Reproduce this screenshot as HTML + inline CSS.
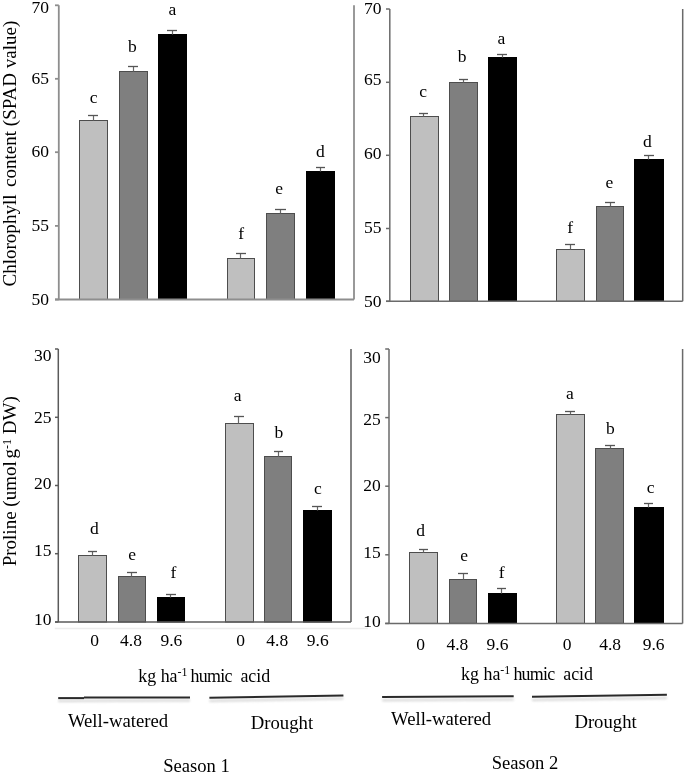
<!DOCTYPE html>
<html><head><meta charset="utf-8"><style>
html,body{margin:0;padding:0;background:#fff;width:685px;height:773px;overflow:hidden}
svg{display:block;will-change:transform}
text{font-family:"Liberation Serif", serif;fill:#000}
</style></head><body>
<svg width="685" height="773" viewBox="0 0 685 773">
<defs><filter id="sh" x="-5%" y="-200%" width="110%" height="500%"><feGaussianBlur stdDeviation="1"/></filter></defs>
<rect width="685" height="773" fill="#fff"/>
<g>
<rect x="79.5" y="120.5" width="28.0" height="179.0" fill="#bfbfbf" stroke="#4d4d4d" stroke-width="1"/>
<line x1="93.5" y1="115.5" x2="93.5" y2="120.5" stroke="#666" stroke-width="1.2"/>
<line x1="88" y1="115.5" x2="98" y2="115.5" stroke="#555" stroke-width="1.3"/>
<rect x="119.5" y="71.5" width="28.0" height="228.0" fill="#7f7f7f" stroke="#4d4d4d" stroke-width="1"/>
<line x1="133.5" y1="66.5" x2="133.5" y2="71.5" stroke="#666" stroke-width="1.2"/>
<line x1="128" y1="66.5" x2="138" y2="66.5" stroke="#555" stroke-width="1.3"/>
<rect x="158.5" y="34.5" width="28.0" height="265.0" fill="#000000" stroke="#000" stroke-width="1"/>
<line x1="172.5" y1="30.5" x2="172.5" y2="34.5" stroke="#666" stroke-width="1.2"/>
<line x1="167" y1="30.5" x2="177" y2="30.5" stroke="#555" stroke-width="1.3"/>
<rect x="227.5" y="258.5" width="27.0" height="41.0" fill="#bfbfbf" stroke="#4d4d4d" stroke-width="1"/>
<line x1="240.5" y1="253.5" x2="240.5" y2="258.5" stroke="#666" stroke-width="1.2"/>
<line x1="236" y1="253.5" x2="246" y2="253.5" stroke="#555" stroke-width="1.3"/>
<rect x="266.5" y="213.5" width="28.0" height="86.0" fill="#7f7f7f" stroke="#4d4d4d" stroke-width="1"/>
<line x1="280.5" y1="209.5" x2="280.5" y2="213.5" stroke="#666" stroke-width="1.2"/>
<line x1="275" y1="209.5" x2="286" y2="209.5" stroke="#555" stroke-width="1.3"/>
<rect x="306.5" y="171.5" width="28.0" height="128.0" fill="#000000" stroke="#000" stroke-width="1"/>
<line x1="320.5" y1="167.5" x2="320.5" y2="171.5" stroke="#666" stroke-width="1.2"/>
<line x1="316" y1="167.5" x2="325" y2="167.5" stroke="#555" stroke-width="1.3"/>
<line x1="58.8" y1="5.3" x2="58.8" y2="299.5" stroke="#8e8e8e" stroke-width="1.8"/>
<line x1="55" y1="299.5" x2="354" y2="299.5" stroke="#8e8e8e" stroke-width="1.8"/>
<line x1="354" y1="5.3" x2="354" y2="299.5" stroke="#8e8e8e" stroke-width="1.8"/>
<line x1="55" y1="5.3" x2="58.8" y2="5.3" stroke="#8e8e8e" stroke-width="1.8"/>
<line x1="55" y1="78.8" x2="58.8" y2="78.8" stroke="#8e8e8e" stroke-width="1.8"/>
<line x1="55" y1="152.2" x2="58.8" y2="152.2" stroke="#8e8e8e" stroke-width="1.8"/>
<line x1="55" y1="225.9" x2="58.8" y2="225.9" stroke="#8e8e8e" stroke-width="1.8"/>
<line x1="55" y1="299.5" x2="58.8" y2="299.5" stroke="#8e8e8e" stroke-width="1.8"/>
<text x="49" y="12.6" font-size="17.5" text-anchor="end" >70</text>
<text x="49" y="83.6" font-size="17.5" text-anchor="end" >65</text>
<text x="49" y="157.4" font-size="17.5" text-anchor="end" >60</text>
<text x="49" y="231.1" font-size="17.5" text-anchor="end" >55</text>
<text x="49" y="304.9" font-size="17.5" text-anchor="end" >50</text>
<text x="93.7" y="102.9" font-size="17.5" text-anchor="middle" >c</text>
<text x="132.3" y="52.1" font-size="17.5" text-anchor="middle" >b</text>
<text x="172.45" y="14.9" font-size="17.5" text-anchor="middle" >a</text>
<text x="241.2" y="238.5" font-size="17.5" text-anchor="middle" >f</text>
<text x="279.05" y="193.5" font-size="17.5" text-anchor="middle" >e</text>
<text x="320.45" y="156.7" font-size="17.5" text-anchor="middle" >d</text>
<rect x="410.5" y="116.5" width="28.0" height="184.8" fill="#bfbfbf" stroke="#4d4d4d" stroke-width="1"/>
<line x1="423.5" y1="113.5" x2="423.5" y2="116.5" stroke="#666" stroke-width="1.2"/>
<line x1="419" y1="113.5" x2="428" y2="113.5" stroke="#555" stroke-width="1.3"/>
<rect x="449.5" y="82.5" width="28.0" height="218.8" fill="#7f7f7f" stroke="#4d4d4d" stroke-width="1"/>
<line x1="463.5" y1="79.5" x2="463.5" y2="82.5" stroke="#666" stroke-width="1.2"/>
<line x1="459" y1="79.5" x2="468" y2="79.5" stroke="#555" stroke-width="1.3"/>
<rect x="488.5" y="57.5" width="28.0" height="243.8" fill="#000000" stroke="#000" stroke-width="1"/>
<line x1="502.5" y1="54.5" x2="502.5" y2="57.5" stroke="#666" stroke-width="1.2"/>
<line x1="497" y1="54.5" x2="507" y2="54.5" stroke="#555" stroke-width="1.3"/>
<rect x="556.5" y="249.5" width="28.0" height="51.80000000000001" fill="#bfbfbf" stroke="#4d4d4d" stroke-width="1"/>
<line x1="570.5" y1="244.5" x2="570.5" y2="249.5" stroke="#666" stroke-width="1.2"/>
<line x1="565" y1="244.5" x2="575" y2="244.5" stroke="#555" stroke-width="1.3"/>
<rect x="596.5" y="206.5" width="27.0" height="94.80000000000001" fill="#7f7f7f" stroke="#4d4d4d" stroke-width="1"/>
<line x1="610.5" y1="202.5" x2="610.5" y2="206.5" stroke="#666" stroke-width="1.2"/>
<line x1="605" y1="202.5" x2="615" y2="202.5" stroke="#555" stroke-width="1.3"/>
<rect x="634.5" y="159.5" width="29.0" height="141.8" fill="#000000" stroke="#000" stroke-width="1"/>
<line x1="648.5" y1="155.5" x2="648.5" y2="159.5" stroke="#666" stroke-width="1.2"/>
<line x1="644" y1="155.5" x2="654" y2="155.5" stroke="#555" stroke-width="1.3"/>
<line x1="389.8" y1="9.0" x2="389.8" y2="301.3" stroke="#6a6a6a" stroke-width="1.5"/>
<line x1="386" y1="301.3" x2="682.7" y2="301.3" stroke="#6a6a6a" stroke-width="1.5"/>
<line x1="682.7" y1="9.0" x2="682.7" y2="301.3" stroke="#6a6a6a" stroke-width="1.5"/>
<line x1="386" y1="9.0" x2="389.8" y2="9.0" stroke="#6a6a6a" stroke-width="1.5"/>
<line x1="386" y1="82.3" x2="389.8" y2="82.3" stroke="#6a6a6a" stroke-width="1.5"/>
<line x1="386" y1="155.3" x2="389.8" y2="155.3" stroke="#6a6a6a" stroke-width="1.5"/>
<line x1="386" y1="228.5" x2="389.8" y2="228.5" stroke="#6a6a6a" stroke-width="1.5"/>
<line x1="386" y1="301.3" x2="389.8" y2="301.3" stroke="#6a6a6a" stroke-width="1.5"/>
<text x="381.5" y="14.4" font-size="17.5" text-anchor="end" >70</text>
<text x="381.5" y="85.2" font-size="17.5" text-anchor="end" >65</text>
<text x="381.5" y="158.8" font-size="17.5" text-anchor="end" >60</text>
<text x="381.5" y="232.5" font-size="17.5" text-anchor="end" >55</text>
<text x="381.5" y="306.5" font-size="17.5" text-anchor="end" >50</text>
<text x="423.1" y="96.9" font-size="17.5" text-anchor="middle" >c</text>
<text x="462.0" y="62.4" font-size="17.5" text-anchor="middle" >b</text>
<text x="501.4" y="43.5" font-size="17.5" text-anchor="middle" >a</text>
<text x="570.2" y="233.1" font-size="17.5" text-anchor="middle" >f</text>
<text x="609.45" y="188.4" font-size="17.5" text-anchor="middle" >e</text>
<text x="647.4" y="146.7" font-size="17.5" text-anchor="middle" >d</text>
<rect x="78.5" y="555.5" width="28.0" height="66.5" fill="#bfbfbf" stroke="#4d4d4d" stroke-width="1"/>
<line x1="92.5" y1="551.5" x2="92.5" y2="555.5" stroke="#666" stroke-width="1.2"/>
<line x1="88" y1="551.5" x2="97" y2="551.5" stroke="#555" stroke-width="1.3"/>
<rect x="118.5" y="576.5" width="27.0" height="45.5" fill="#7f7f7f" stroke="#4d4d4d" stroke-width="1"/>
<line x1="131.5" y1="572.5" x2="131.5" y2="576.5" stroke="#666" stroke-width="1.2"/>
<line x1="127" y1="572.5" x2="137" y2="572.5" stroke="#555" stroke-width="1.3"/>
<rect x="157.5" y="597.5" width="27.0" height="24.5" fill="#000000" stroke="#000" stroke-width="1"/>
<line x1="170.5" y1="594.5" x2="170.5" y2="597.5" stroke="#666" stroke-width="1.2"/>
<line x1="166" y1="594.5" x2="176" y2="594.5" stroke="#555" stroke-width="1.3"/>
<rect x="225.5" y="423.5" width="28.0" height="198.5" fill="#bfbfbf" stroke="#4d4d4d" stroke-width="1"/>
<line x1="238.5" y1="416.5" x2="238.5" y2="423.5" stroke="#666" stroke-width="1.2"/>
<line x1="234" y1="416.5" x2="244" y2="416.5" stroke="#555" stroke-width="1.3"/>
<rect x="264.5" y="456.5" width="27.0" height="165.5" fill="#7f7f7f" stroke="#4d4d4d" stroke-width="1"/>
<line x1="278.5" y1="451.5" x2="278.5" y2="456.5" stroke="#666" stroke-width="1.2"/>
<line x1="274" y1="451.5" x2="283" y2="451.5" stroke="#555" stroke-width="1.3"/>
<rect x="303.5" y="510.5" width="28.0" height="111.5" fill="#000000" stroke="#000" stroke-width="1"/>
<line x1="317.5" y1="506.5" x2="317.5" y2="510.5" stroke="#666" stroke-width="1.2"/>
<line x1="312" y1="506.5" x2="322" y2="506.5" stroke="#555" stroke-width="1.3"/>
<line x1="58.3" y1="349" x2="58.3" y2="622" stroke="#5a5a5a" stroke-width="1.5"/>
<line x1="55" y1="622" x2="351" y2="622" stroke="#5a5a5a" stroke-width="1.5"/>
<line x1="351" y1="349" x2="351" y2="622" stroke="#5a5a5a" stroke-width="1.5"/>
<line x1="55" y1="349" x2="58.3" y2="349" stroke="#5a5a5a" stroke-width="1.5"/>
<line x1="55" y1="417.3" x2="58.3" y2="417.3" stroke="#5a5a5a" stroke-width="1.5"/>
<line x1="55" y1="485.5" x2="58.3" y2="485.5" stroke="#5a5a5a" stroke-width="1.5"/>
<line x1="55" y1="553.7" x2="58.3" y2="553.7" stroke="#5a5a5a" stroke-width="1.5"/>
<line x1="55" y1="622" x2="58.3" y2="622" stroke="#5a5a5a" stroke-width="1.5"/>
<text x="51.5" y="360.5" font-size="17.5" text-anchor="end" >30</text>
<text x="51.5" y="423.3" font-size="17.5" text-anchor="end" >25</text>
<text x="51.5" y="489.1" font-size="17.5" text-anchor="end" >20</text>
<text x="51.5" y="555.7" font-size="17.5" text-anchor="end" >15</text>
<text x="51.5" y="624.6" font-size="17.5" text-anchor="end" >10</text>
<text x="94.35" y="534.4" font-size="17.5" text-anchor="middle" >d</text>
<text x="132.1" y="560.1" font-size="17.5" text-anchor="middle" >e</text>
<text x="173.35" y="578.2" font-size="17.5" text-anchor="middle" >f</text>
<text x="237.6" y="401.3" font-size="17.5" text-anchor="middle" >a</text>
<text x="278.8" y="438.3" font-size="17.5" text-anchor="middle" >b</text>
<text x="317.85" y="493.7" font-size="17.5" text-anchor="middle" >c</text>
<rect x="409.5" y="552.5" width="28.0" height="70.89999999999998" fill="#bfbfbf" stroke="#4d4d4d" stroke-width="1"/>
<line x1="423.5" y1="549.5" x2="423.5" y2="552.5" stroke="#666" stroke-width="1.2"/>
<line x1="419" y1="549.5" x2="428" y2="549.5" stroke="#555" stroke-width="1.3"/>
<rect x="449.5" y="579.5" width="27.0" height="43.89999999999998" fill="#7f7f7f" stroke="#4d4d4d" stroke-width="1"/>
<line x1="463.5" y1="573.5" x2="463.5" y2="579.5" stroke="#666" stroke-width="1.2"/>
<line x1="458" y1="573.5" x2="468" y2="573.5" stroke="#555" stroke-width="1.3"/>
<rect x="488.5" y="593.5" width="28.0" height="29.899999999999977" fill="#000000" stroke="#000" stroke-width="1"/>
<line x1="501.5" y1="588.5" x2="501.5" y2="593.5" stroke="#666" stroke-width="1.2"/>
<line x1="497" y1="588.5" x2="506" y2="588.5" stroke="#555" stroke-width="1.3"/>
<rect x="556.5" y="414.5" width="28.0" height="208.89999999999998" fill="#bfbfbf" stroke="#4d4d4d" stroke-width="1"/>
<line x1="570.5" y1="411.5" x2="570.5" y2="414.5" stroke="#666" stroke-width="1.2"/>
<line x1="565" y1="411.5" x2="575" y2="411.5" stroke="#555" stroke-width="1.3"/>
<rect x="595.5" y="448.5" width="28.0" height="174.89999999999998" fill="#7f7f7f" stroke="#4d4d4d" stroke-width="1"/>
<line x1="610.5" y1="445.5" x2="610.5" y2="448.5" stroke="#666" stroke-width="1.2"/>
<line x1="605" y1="445.5" x2="615" y2="445.5" stroke="#555" stroke-width="1.3"/>
<rect x="634.5" y="507.5" width="29.0" height="115.89999999999998" fill="#000000" stroke="#000" stroke-width="1"/>
<line x1="648.5" y1="503.5" x2="648.5" y2="507.5" stroke="#666" stroke-width="1.2"/>
<line x1="644" y1="503.5" x2="653" y2="503.5" stroke="#555" stroke-width="1.3"/>
<line x1="389" y1="349" x2="389" y2="623.4" stroke="#6a6a6a" stroke-width="1.5"/>
<line x1="385.2" y1="623.4" x2="682.6" y2="623.4" stroke="#6a6a6a" stroke-width="1.5"/>
<line x1="682.6" y1="349" x2="682.6" y2="623.4" stroke="#6a6a6a" stroke-width="1.5"/>
<line x1="385.2" y1="349" x2="389" y2="349" stroke="#6a6a6a" stroke-width="1.5"/>
<line x1="385.2" y1="417.6" x2="389" y2="417.6" stroke="#6a6a6a" stroke-width="1.5"/>
<line x1="385.2" y1="486.2" x2="389" y2="486.2" stroke="#6a6a6a" stroke-width="1.5"/>
<line x1="385.2" y1="554.8" x2="389" y2="554.8" stroke="#6a6a6a" stroke-width="1.5"/>
<line x1="385.2" y1="623.4" x2="389" y2="623.4" stroke="#6a6a6a" stroke-width="1.5"/>
<text x="380.8" y="363.4" font-size="17.5" text-anchor="end" >30</text>
<text x="380.8" y="425.2" font-size="17.5" text-anchor="end" >25</text>
<text x="380.8" y="491.4" font-size="17.5" text-anchor="end" >20</text>
<text x="380.8" y="558.3" font-size="17.5" text-anchor="end" >15</text>
<text x="380.8" y="627.2" font-size="17.5" text-anchor="end" >10</text>
<text x="420.6" y="536.1" font-size="17.5" text-anchor="middle" >d</text>
<text x="464.05" y="561.2" font-size="17.5" text-anchor="middle" >e</text>
<text x="501.65" y="578.2" font-size="17.5" text-anchor="middle" >f</text>
<text x="570.0" y="399.3" font-size="17.5" text-anchor="middle" >a</text>
<text x="610.4" y="433.7" font-size="17.5" text-anchor="middle" >b</text>
<text x="650.75" y="492.9" font-size="17.5" text-anchor="middle" >c</text>
<line x1="54.8" y1="628.6" x2="368" y2="628.6" stroke="#ececec" stroke-width="1.5"/>
<text x="94.5" y="646" font-size="17.5" text-anchor="middle" >0</text>
<text x="131.0" y="646" font-size="17.5" text-anchor="middle" >4.8</text>
<text x="171.35" y="646" font-size="17.5" text-anchor="middle" >9.6</text>
<text x="240.7" y="645.6" font-size="17.5" text-anchor="middle" >0</text>
<text x="277.25" y="645.6" font-size="17.5" text-anchor="middle" >4.8</text>
<text x="317.75" y="645.6" font-size="17.5" text-anchor="middle" >9.6</text>
<text x="420.6" y="650" font-size="17.5" text-anchor="middle" >0</text>
<text x="457.35" y="650" font-size="17.5" text-anchor="middle" >4.8</text>
<text x="497.55" y="650" font-size="17.5" text-anchor="middle" >9.6</text>
<text x="567.0" y="649.5" font-size="17.5" text-anchor="middle" >0</text>
<text x="610.1" y="649.5" font-size="17.5" text-anchor="middle" >4.8</text>
<text x="653.65" y="649.5" font-size="17.5" text-anchor="middle" >9.6</text>
<text x="138.3" y="682" font-size="17.9" text-anchor="start" >kg ha<tspan font-size="12" dy="-5.6">-1</tspan><tspan dy="5.6" x="190.60000000000002" textLength="41.8" lengthAdjust="spacing">humic</tspan><tspan x="240.4">acid</tspan></text>
<text x="461.1" y="679.7" font-size="17.9" text-anchor="start" >kg ha<tspan font-size="12" dy="-5.6">-1</tspan><tspan dy="5.6" x="513.4" textLength="41.8" lengthAdjust="spacing">humic</tspan><tspan x="563.2">acid</tspan></text>
<g filter="url(#sh)" opacity="0.9">
<line x1="58.2" y1="701" x2="190" y2="700.6" stroke="#d8d8d8" stroke-width="2.5"/>
<line x1="209.4" y1="700.9" x2="343.4" y2="698.6" stroke="#d8d8d8" stroke-width="2.5"/>
<line x1="382.1" y1="700.2" x2="513.7" y2="699.4" stroke="#d8d8d8" stroke-width="2.5"/>
<line x1="532" y1="700" x2="666.9" y2="698" stroke="#d8d8d8" stroke-width="2.5"/>
</g>
<line x1="58.2" y1="698.1" x2="84" y2="698.1" stroke="#2a2a2a" stroke-width="2"/>
<line x1="84" y1="697.6" x2="190" y2="697.6" stroke="#2a2a2a" stroke-width="2"/>
<line x1="209.4" y1="697.7" x2="343.4" y2="695.4" stroke="#2a2a2a" stroke-width="2"/>
<line x1="382.1" y1="697" x2="513.7" y2="696.2" stroke="#2a2a2a" stroke-width="2"/>
<line x1="532" y1="696.8" x2="666.9" y2="694.8" stroke="#2a2a2a" stroke-width="2"/>
<text x="67.9" y="726.7" font-size="18.7" text-anchor="start" >Well-watered</text>
<text x="391.0" y="725.3" font-size="18.7" text-anchor="start" >Well-watered</text>
<text x="250.8" y="728.9" font-size="18.7" text-anchor="start" >Drought</text>
<text x="574.4" y="727.5" font-size="18.7" text-anchor="start" >Drought</text>
<text x="163.2" y="771.6" font-size="18.6" text-anchor="start" >Season 1</text>
<text x="491.7" y="768.8" font-size="18.6" text-anchor="start" >Season 2</text>
<text transform="translate(16,286.5) rotate(-90)" font-size="19.05">Chlorophyll<tspan dx="2.8"> content (SPAD value)</tspan></text>
<text transform="translate(16,566.3) rotate(-90)" font-size="19">Proline (umol <tspan dx="-2">g</tspan><tspan font-size="12" dy="-5.5">-1</tspan><tspan dy="5.5"> DW)</tspan></text>
</g>
</svg>
</body></html>
